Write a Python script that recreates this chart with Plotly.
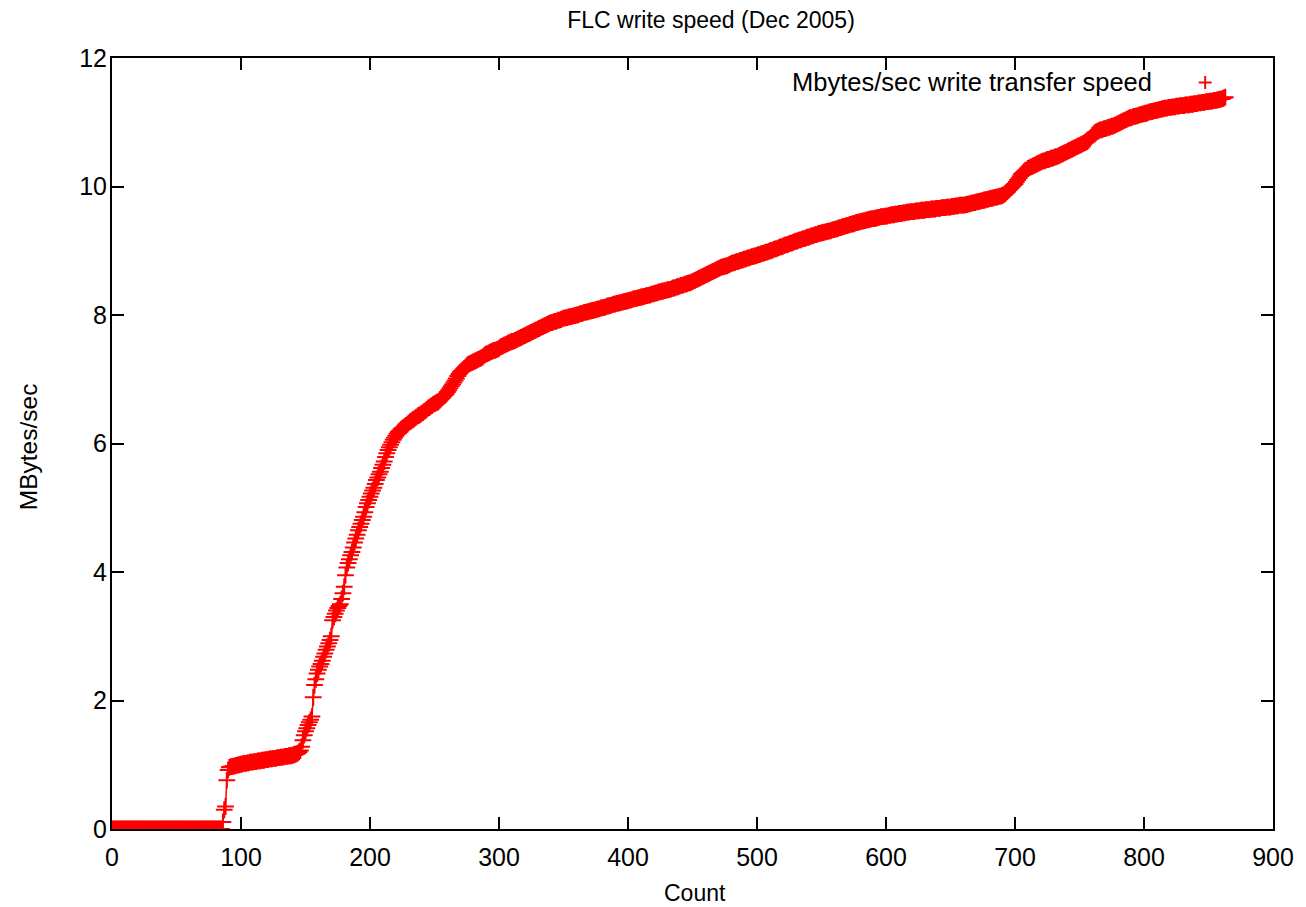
import plotly.graph_objects as go

# Sorted write-transfer speeds (MBytes/sec), one value per count
speeds = [
    0, 0, 0, 0, 0, 0, 0, 0, 0, 0,
    0, 0, 0, 0, 0, 0, 0, 0, 0, 0,
    0, 0, 0, 0, 0, 0, 0, 0, 0, 0,
    0, 0, 0, 0, 0, 0, 0, 0, 0, 0,
    0, 0, 0, 0, 0, 0, 0, 0, 0, 0,
    0, 0, 0, 0, 0, 0, 0, 0, 0, 0,
    0, 0, 0, 0, 0, 0, 0, 0, 0, 0,
    0, 0, 0, 0, 0, 0, 0, 0, 0, 0,
    0, 0, 0, 0, 0, 0, 0.11, 0.30, 0.35, 0.76,
    0.92, 0.96, 0.97, 0.97, 0.98, 0.98, 0.99, 0.99, 1.00, 1.00,
    1.01, 1.01, 1.02, 1.02, 1.02, 1.03, 1.03, 1.04, 1.04, 1.04,
    1.05, 1.05, 1.05, 1.06, 1.06, 1.06, 1.07, 1.07, 1.07, 1.08,
    1.08, 1.08, 1.09, 1.09, 1.09, 1.10, 1.10, 1.10, 1.11, 1.11,
    1.11, 1.12, 1.12, 1.12, 1.13, 1.13, 1.13, 1.14, 1.14, 1.14,
    1.15, 1.15, 1.16, 1.17, 1.18, 1.20, 1.22, 1.28, 1.38, 1.46,
    1.52, 1.57, 1.62, 1.66, 1.70, 1.75, 2.05, 2.24, 2.33, 2.42,
    2.48, 2.53, 2.57, 2.62, 2.68, 2.73, 2.79, 2.84, 2.89, 2.94,
    3.00, 3.25, 3.30, 3.35, 3.40, 3.44, 3.47, 3.50, 3.58, 3.67,
    3.77, 3.95, 4.07, 4.14, 4.20, 4.26, 4.31, 4.38, 4.46, 4.52,
    4.58, 4.65, 4.70, 4.75, 4.81, 4.86, 4.93, 5.01, 5.07, 5.12,
    5.17, 5.22, 5.27, 5.31, 5.37, 5.43, 5.47, 5.52, 5.56, 5.62,
    5.67, 5.72, 5.79, 5.85, 5.90, 5.94, 5.98, 6.02, 6.06, 6.09,
    6.12, 6.15, 6.18, 6.20, 6.22, 6.24, 6.25, 6.27, 6.28, 6.30,
    6.32, 6.34, 6.35, 6.37, 6.38, 6.40, 6.41, 6.43, 6.44, 6.45,
    6.47, 6.48, 6.50, 6.51, 6.53, 6.55, 6.56, 6.58, 6.59, 6.61,
    6.62, 6.63, 6.64, 6.65, 6.67, 6.69, 6.71, 6.73, 6.75, 6.77,
    6.80, 6.83, 6.86, 6.89, 6.92, 6.95, 6.98, 7.01, 7.05, 7.08,
    7.11, 7.13, 7.15, 7.17, 7.19, 7.21, 7.23, 7.24, 7.25, 7.26,
    7.27, 7.28, 7.29, 7.30, 7.31, 7.32, 7.33, 7.34, 7.36, 7.38,
    7.39, 7.40, 7.41, 7.42, 7.43, 7.44, 7.45, 7.45, 7.46, 7.47,
    7.48, 7.50, 7.51, 7.52, 7.53, 7.54, 7.55, 7.56, 7.57, 7.58,
    7.59, 7.59, 7.60, 7.61, 7.62, 7.63, 7.64, 7.65, 7.66, 7.67,
    7.68, 7.69, 7.70, 7.71, 7.72, 7.73, 7.74, 7.75, 7.76, 7.77,
    7.78, 7.79, 7.80, 7.81, 7.82, 7.83, 7.84, 7.85, 7.86, 7.87,
    7.88, 7.88, 7.89, 7.90, 7.90, 7.91, 7.92, 7.92, 7.93, 7.94,
    7.95, 7.95, 7.96, 7.96, 7.97, 7.97, 7.98, 7.98, 7.99, 7.99,
    8.00, 8.00, 8.01, 8.02, 8.02, 8.03, 8.04, 8.04, 8.05, 8.05,
    8.06, 8.06, 8.07, 8.07, 8.08, 8.08, 8.09, 8.09, 8.10, 8.11,
    8.11, 8.12, 8.12, 8.13, 8.14, 8.14, 8.15, 8.15, 8.16, 8.17,
    8.17, 8.18, 8.18, 8.19, 8.19, 8.20, 8.20, 8.21, 8.21, 8.22,
    8.22, 8.23, 8.23, 8.24, 8.25, 8.25, 8.26, 8.26, 8.27, 8.27,
    8.28, 8.28, 8.29, 8.29, 8.30, 8.30, 8.31, 8.31, 8.32, 8.33,
    8.33, 8.34, 8.34, 8.35, 8.36, 8.36, 8.37, 8.37, 8.38, 8.38,
    8.39, 8.39, 8.40, 8.40, 8.41, 8.42, 8.42, 8.43, 8.44, 8.44,
    8.45, 8.46, 8.46, 8.47, 8.48, 8.48, 8.49, 8.50, 8.50, 8.51,
    8.52, 8.53, 8.54, 8.55, 8.56, 8.57, 8.58, 8.59, 8.60, 8.61,
    8.62, 8.63, 8.64, 8.65, 8.66, 8.67, 8.68, 8.69, 8.70, 8.71,
    8.72, 8.73, 8.74, 8.75, 8.75, 8.76, 8.76, 8.77, 8.78, 8.79,
    8.80, 8.81, 8.81, 8.82, 8.83, 8.83, 8.84, 8.85, 8.85, 8.86,
    8.87, 8.87, 8.88, 8.89, 8.89, 8.90, 8.91, 8.91, 8.92, 8.92,
    8.93, 8.94, 8.94, 8.95, 8.96, 8.96, 8.97, 8.98, 8.98, 8.99,
    9.00, 9.00, 9.01, 9.02, 9.03, 9.03, 9.04, 9.05, 9.06, 9.06,
    9.07, 9.08, 9.09, 9.09, 9.10, 9.11, 9.12, 9.12, 9.13, 9.14,
    9.15, 9.15, 9.16, 9.17, 9.17, 9.18, 9.19, 9.19, 9.20, 9.21,
    9.21, 9.22, 9.23, 9.23, 9.24, 9.25, 9.25, 9.26, 9.27, 9.27,
    9.28, 9.28, 9.29, 9.29, 9.30, 9.30, 9.31, 9.31, 9.32, 9.33,
    9.33, 9.34, 9.34, 9.35, 9.36, 9.36, 9.37, 9.38, 9.38, 9.39,
    9.39, 9.40, 9.41, 9.41, 9.42, 9.42, 9.43, 9.44, 9.44, 9.45,
    9.45, 9.46, 9.46, 9.47, 9.47, 9.48, 9.48, 9.49, 9.49, 9.50,
    9.50, 9.50, 9.51, 9.51, 9.52, 9.52, 9.53, 9.53, 9.53, 9.54,
    9.54, 9.54, 9.55, 9.55, 9.56, 9.56, 9.56, 9.57, 9.57, 9.57,
    9.58, 9.58, 9.58, 9.59, 9.59, 9.59, 9.60, 9.60, 9.60, 9.61,
    9.61, 9.61, 9.61, 9.62, 9.62, 9.62, 9.62, 9.63, 9.63, 9.63,
    9.63, 9.64, 9.64, 9.64, 9.64, 9.65, 9.65, 9.65, 9.65, 9.66,
    9.66, 9.66, 9.66, 9.67, 9.67, 9.67, 9.67, 9.68, 9.68, 9.68,
    9.68, 9.69, 9.69, 9.69, 9.70, 9.70, 9.70, 9.71, 9.71, 9.71,
    9.71, 9.71, 9.72, 9.72, 9.73, 9.73, 9.74, 9.74, 9.75, 9.75,
    9.76, 9.76, 9.77, 9.77, 9.78, 9.78, 9.79, 9.79, 9.80, 9.80,
    9.81, 9.81, 9.82, 9.82, 9.83, 9.83, 9.84, 9.84, 9.85, 9.85,
    9.86, 9.87, 9.88, 9.90, 9.92, 9.94, 9.96, 9.98, 10.00, 10.02,
    10.04, 10.07, 10.10, 10.13, 10.16, 10.19, 10.21, 10.23, 10.25, 10.26,
    10.28, 10.29, 10.30, 10.31, 10.32, 10.33, 10.34, 10.35, 10.36, 10.37,
    10.38, 10.39, 10.40, 10.40, 10.41, 10.42, 10.42, 10.43, 10.44, 10.44,
    10.45, 10.46, 10.46, 10.47, 10.48, 10.49, 10.50, 10.51, 10.52, 10.53,
    10.54, 10.55, 10.56, 10.57, 10.58, 10.59, 10.60, 10.61, 10.62, 10.63,
    10.64, 10.65, 10.66, 10.67, 10.68, 10.69, 10.70, 10.72, 10.74, 10.77,
    10.80, 10.82, 10.84, 10.85, 10.86, 10.87, 10.88, 10.88, 10.89, 10.90,
    10.90, 10.91, 10.92, 10.92, 10.93, 10.94, 10.94, 10.95, 10.96, 10.97,
    10.98, 10.99, 11.00, 11.01, 11.02, 11.03, 11.04, 11.05, 11.06, 11.07,
    11.07, 11.08, 11.09, 11.09, 11.10, 11.10, 11.11, 11.12, 11.12, 11.13,
    11.13, 11.14, 11.14, 11.15, 11.16, 11.16, 11.17, 11.17, 11.18, 11.18,
    11.19, 11.19, 11.20, 11.20, 11.21, 11.21, 11.22, 11.22, 11.22, 11.23,
    11.23, 11.23, 11.24, 11.24, 11.24, 11.25, 11.25, 11.25, 11.26, 11.26,
    11.26, 11.26, 11.27, 11.27, 11.27, 11.27, 11.28, 11.28, 11.28, 11.29,
    11.29, 11.29, 11.30, 11.30, 11.30, 11.31, 11.31, 11.31, 11.32, 11.32,
    11.32, 11.33, 11.33, 11.33, 11.34, 11.34, 11.34, 11.35, 11.35, 11.36,
    11.36, 11.37, 11.38, 11.39,
]
counts = list(range(len(speeds)))

x_ticks = [0, 100, 200, 300, 400, 500, 600, 700, 800, 900]
y_ticks = [0, 2, 4, 6, 8, 10, 12]

title_text = "FLC write speed (Dec 2005)"
x_label = "Count"
y_label = "MBytes/sec"
series_name = "Mbytes/sec write transfer speed"

RED = "#ff0000"
FONT = "Liberation Sans, Arial, Helvetica, sans-serif"

# The page body adds an 8px offset; figure sized so the plot lands where the reference has it.
W, H = 1298, 899
L, R, T, B = 104, 30, 50, 78
PW = W - L - R  # plot width in px
PH = H - T - B  # plot height in px


def px_x(page_x):
    return (page_x - 8 - L) / PW


def px_y(page_y):
    return (H - B - (page_y - 8)) / PH


fig = go.Figure()
fig.add_trace(go.Scatter(
    x=counts, y=speeds, mode="lines+markers", name=series_name,
    line=dict(color=RED, width=1.5),
    marker=dict(symbol="cross-thin", size=12, line=dict(color=RED, width=2)),
    showlegend=False,
))

axis_common = dict(
    showline=True, linecolor="black", linewidth=2, mirror="ticks",
    ticks="inside", ticklen=12, tickwidth=1.5, tickcolor="black",
    showgrid=False, zeroline=False,
    tickfont=dict(family=FONT, size=25, color="black"),
)

fig.update_layout(
    width=W, height=H,
    margin=dict(l=L, r=R, t=T, b=B),
    paper_bgcolor="white", plot_bgcolor="white",
    title=dict(text=title_text, x=(711 - 8) / W, y=1 - (20 - 8) / H,
               xanchor="center", yanchor="middle",
               font=dict(family=FONT, size=23, color="black")),
    xaxis=dict(range=[0, 900], tickvals=x_ticks, ticklabelstandoff=5, **axis_common),
    yaxis=dict(range=[0, 12], tickvals=y_ticks, ticklabelstandoff=-2, **axis_common),
    font=dict(family=FONT, size=23, color="black"),
)

annotations = [
    dict(text=x_label, xref="paper", yref="paper", x=px_x(697), y=px_y(893),
         xanchor="center", yanchor="middle", showarrow=False,
         font=dict(family=FONT, size=23, color="black")),
    dict(text=y_label, xref="paper", yref="paper", x=px_x(28), y=px_y(447),
         xanchor="center", yanchor="middle", showarrow=False, textangle=-90,
         font=dict(family=FONT, size=24.5, color="black")),
    dict(text=series_name, xref="paper", yref="paper", x=px_x(1157), y=px_y(82),
         xanchor="right", yanchor="middle", showarrow=False,
         font=dict(family=FONT, size=25.5, color="black")),
]
fig.update_layout(annotations=annotations)

# legend key sample (a red "+")
kx, ky = px_x(1208), px_y(82.5)
dx, dy = 6.5 / PW, 6.5 / PH
fig.add_shape(type="line", xref="paper", yref="paper", x0=kx - dx, x1=kx + dx, y0=ky, y1=ky,
              line=dict(color=RED, width=2))
fig.add_shape(type="line", xref="paper", yref="paper", x0=kx, x1=kx, y0=ky - dy, y1=ky + dy,
              line=dict(color=RED, width=2))

fig.write_html("out.html")
